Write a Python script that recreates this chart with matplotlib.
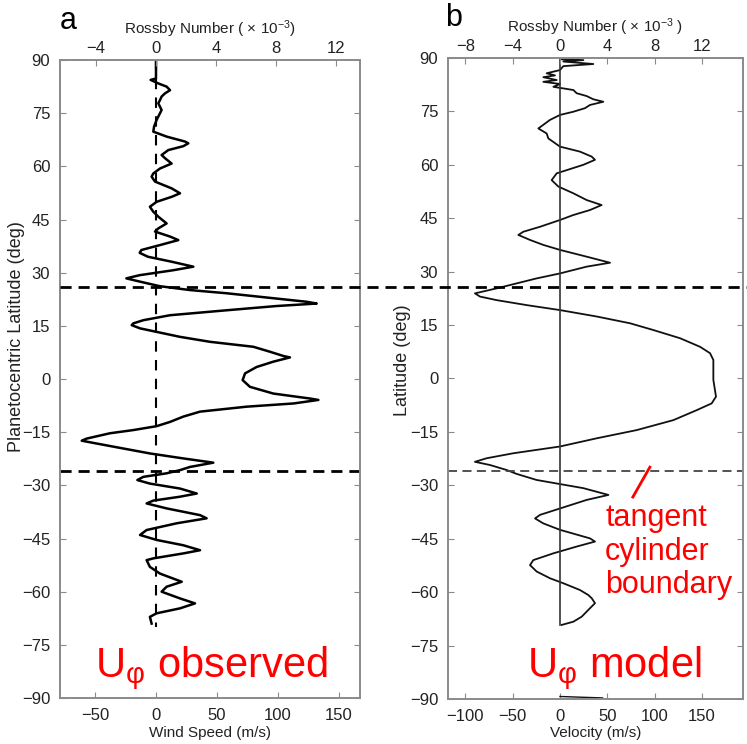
import matplotlib
matplotlib.use("Agg")
import matplotlib.pyplot as plt
from matplotlib.lines import Line2D

plt.rcParams['font.family'] = ['Liberation Sans', 'DejaVu Sans']
plt.rcParams['mathtext.fontset'] = 'custom'
plt.rcParams['mathtext.rm'] = 'Liberation Sans'
plt.rcParams['mathtext.it'] = 'Liberation Sans'

# panel a: observed wind (m/s) vs planetocentric latitude (deg)
lat_obs = [90, 84.8, 84.4, 83.4, 82.5, 81.5, 80.6, 79.7, 78.7, 77.8, 75.9, 73.1,
           71.2, 69.8, 68.4, 67.0, 66.5, 65.7, 64.6, 63.2, 62.3, 60.8, 59.4, 58.0,
           57.1, 55.7, 53.8, 52.4, 51.4, 50.0, 48.6, 47.2, 45.8, 43.9, 42.5, 41.6,
           40.2, 39.2, 37.8, 36.4, 35.6, 34.5, 33.1, 31.7, 30.7, 29.3, 28.4, 27.5,
           26.2, 25.1, 24.2, 22.7, 21.8, 21.3, 20.6, 19.4, 18.0, 16.6, 15.7, 15.2,
           14.3, 13.3, 11.9, 10.5, 9.1, 7.7, 6.5, 6.1, 4.9, 3.4, 1.6, -0.3,
           -2.2, -4.1, -5.5, -5.9, -6.9, -7.8, -9.2, -10.6, -12.1, -13.3, -14.4, -15.3,
           -16.8, -17.4, -18.2, -19.6, -21.0, -22.4, -23.6, -24.8, -25.7, -26.6, -27.6,
           -28.5, -29.5, -30.9, -32.3, -33.2, -34.3, -35.1, -36.5, -38.4, -39.3, -40.7,
           -42.6, -44.0, -45.4, -46.9, -48.3, -49.2, -50.6, -51.1, -53.0, -54.9, -57.2,
           -58.6, -60.0, -61.9, -63.3, -64.7, -66.1, -67.1, -69.0]
u_obs = [0, 0, -4.4, 1.9, 8.7, 11.5, 7.4, 4.6, 3.3, 1.9, 4.6, 0.5,
         -1.6, -2.2, 8.7, 23.8, 26.5, 22.4, 10.1, 4.6, 7.4, 12.8, 3.3, -2.2,
         -3.6, -0.8, 12.8, 19.7, 12.8, 0.5, -5.0, -2.2, 1.9, 8.7, 1.9, -0.8,
         11.5, 18.3, 3.3, -12.0, -13.4, -6.6, 12.8, 30.6, 14.2, -13.4, -24.3, -13.4,
         3.0, 27.9, 57.9, 98.9, 123.5, 131.7, 98.9, 57.9, 11.5, -10.4, -18.6, -19.9,
         -13.1, 0.5, 19.7, 44.3, 79.8, 93.4, 104.4, 109.8, 96.2, 82.5, 73.0, 71.0,
         77.0, 96.2, 126.2, 133.1, 112.6, 74.3, 36.1, 22.4, 11.5, 0.5, -18.6, -37.7,
         -56.8, -60.9, -48.6, -26.8, -4.9, 22.4, 47.0, 27.9, 19.7, 8.7, -10.4,
         -15.3, -5.0, 19.7, 33.4, 19.7, -2.2, -7.7, 8.7, 36.1, 41.5, 17.0,
         -7.7, -13.1, 0.5, 22.4, 36.1, 22.4, -2.2, -7.7, -5.0, 3.3, 21.1,
         8.7, 4.6, 19.7, 32.0, 19.7, 0.5, -5.0, -3.6]

# panel b: model velocity (m/s) vs latitude (deg)
lat_mod = [90, 89.6, 89.4, 89.0, 88.3, 87.7, 86.6, 85.7, 85.1, 84.6, 83.8, 83.3,
           82.7, 81.9, 81.0, 80.1, 79.3, 78.4, 77.7, 76.8, 75.9, 74.9, 74.0, 72.6,
           70.2, 68.8, 67.4, 65.1, 63.7, 62.3, 61.4, 60.0, 57.6, 55.7, 53.9, 52.0,
           50.1, 48.7, 47.3, 45.9, 44.5, 42.6, 41.2, 40.3, 38.9, 37.5, 36.1, 34.2,
           32.5, 31.4, 29.5, 28.1, 26.7, 25.3, 23.9, 23.0, 22.0, 20.6, 19.2, 17.4,
           15.5, 13.6, 11.3, 8.9, 7.1, 5.2, -0.4, -5.1, -7.0, -8.9, -11.7, -14.5,
           -16.8, -19.1, -21.0, -22.4, -23.4, -24.3, -25.7, -26.8, -28.5, -30.8, -32.7,
           -34.1, -36.5, -38.3, -39.3, -40.7, -42.5, -44.9, -45.8, -47.2, -49.1, -51.0,
           -52.4, -54.2, -56.1, -57.5, -59.4, -60.8, -61.7, -63.1, -65.0, -66.9, -68.3,
           -69.2]
u_mod = [2, 1.8, 24.7, 3.5, 35.2, 3.5, 0, -14.1, -5.3, -17.6, -3.5, -17.6,
         0, -7.0, 14.1, 17.6, 28.2, 35.2, 45.8, 31.7, 26.4, 14.1, 0, -10.6,
         -22.9, -14.1, -12.3, 0, 21.1, 33.5, 37.0, 24.7, -3.5, -8.8, -1.8, 14.1,
         28.2, 44.0, 31.7, 14.1, 0, -21.1, -38.8, -44.0, -31.7, -17.6, 0, 28.2,
         52.9, 28.2, 0, -24.7, -45.8, -67.0, -89.9, -84.6, -67.0, -35.2, 0, 38.8,
         74.0, 98.7, 126.9, 148.0, 158.6, 162.1, 162.1, 164.9, 160.3, 144.5, 119.8, 81.0,
         38.8, 0, -49.3, -77.5, -89.9, -74.0, -56.4, -45.8, -24.7, 24.7, 51.2,
         28.2, 0, -21.1, -26.4, -17.6, 0, 31.7, 37.0, 17.6, -7.0, -28.2,
         -31.7, -24.7, -10.6, 3.5, 21.1, 29.9, 33.5, 37.0, 29.9, 22.9, 14.1,
         1.8]
lat_tail = [-89.3, -89.5, -89.7]
u_tail = [0, 22, 45]

lat_ticks = list(range(-90, 91, 15))
tc_lat = 26  # tangent cylinder latitude

fig = plt.figure(figsize=(7.47, 7.44), dpi=100)
ax_a = fig.add_axes([0.0803, 0.0618, 0.4016, 0.8575])
ax_b = fig.add_axes([0.5997, 0.0605, 0.3949, 0.8616])

spine_col = '#8a8a8a'
txt_col = '#222222'


def style(ax, top=False):
    for s in ax.spines.values():
        s.set_color(spine_col)
        s.set_linewidth(1.2)
    ax.tick_params(direction='in', length=4, color=spine_col, labelsize=12,
                   labelcolor=txt_col, pad=7)
    if top:
        ax.tick_params(pad=3)
    else:
        ax.tick_params(right=True)


# panel a
ax_a.plot(u_obs, lat_obs, color='black', lw=1.8)
ax_a.plot([0, 0], [90, -70], color='black', lw=1.5, ls=(0, (5, 4)))
ax_a.axhline(-tc_lat, color='black', lw=2, ls=(0, (4, 2.5)))
ax_a.set_xlim(-78.7, 167.2)
ax_a.set_ylim(-90, 90)
ax_a.set_yticks(lat_ticks)
ax_a.set_xticks([-50, 0, 50, 100, 150])
ax_a.set_xlabel('Wind Speed (m/s)', fontsize=11, color=txt_col, labelpad=2)
ax_a.set_ylabel('Planetocentric Latitude (deg)', fontsize=13, color=txt_col)
ax_a.yaxis.set_label_coords(-0.118, 0.567)
style(ax_a)
top_a = ax_a.twiny()
top_a.set_xlim(-78.7 / 12.3, 167.2 / 12.3)
top_a.set_xticks([-4, 0, 4, 8, 12])
style(top_a, top=True)
top_a.set_xlabel(r'Rossby Number ( $\times$ 10$^{-3}$)', fontsize=11, color=txt_col, labelpad=5)
ax_a.text(-50, -84, r'U$_{φ}$ observed', color='red', fontsize=30)
ax_a.text(0.0, 1.048, 'a', transform=ax_a.transAxes, fontsize=22, ha='left', va='baseline')

# panel b
ax_b.plot(u_mod, lat_mod, color='#111111', lw=1.3)
ax_b.plot(u_tail, lat_tail, color='#111111', lw=1.0)
ax_b.plot([0, 0], [90, -69.2], color='#333333', lw=1.2)
ax_b.axhline(-tc_lat, color='#444444', lw=1.3, ls=(0, (5, 3)))
ax_b.set_xlim(-118.4, 193.4)
ax_b.set_ylim(-90, 90)
ax_b.set_yticks(lat_ticks)
ax_b.set_xticks([-100, -50, 0, 50, 100, 150])
ax_b.set_xlabel('Velocity (m/s)', fontsize=11, color=txt_col, labelpad=2)
ax_b.set_ylabel('Latitude (deg)', fontsize=13, color=txt_col)
ax_b.yaxis.set_label_coords(-0.125, 0.529)
style(ax_b)
top_b = ax_b.twiny()
top_b.set_xlim(-118.4 / 12.5, 193.4 / 12.5)
top_b.set_xticks([-8, -4, 0, 4, 8, 12])
style(top_b, top=True)
top_b.set_xlabel(r'Rossby Number ( $\times$ 10$^{-3}$ )', fontsize=11, color=txt_col, labelpad=5)
ax_b.text(-35, -83.8, r'U$_{φ}$ model', color='red', fontsize=30)
ax_b.text(-0.01, 1.05, 'b', transform=ax_b.transAxes, fontsize=22, ha='left', va='baseline')
ax_b.plot([95, 77], [-24.9, -33.3], color='red', lw=2)
ax_b.text(47.6, -35, 'tangent\ncylinder\nboundary', color='red', fontsize=22,
          ha='left', va='top', linespacing=1.15)

# upper tangent-cylinder line drawn across both panels
y_fig = ax_a.transData.transform((0, tc_lat))[1] / fig.dpi / fig.get_figheight()
fig.add_artist(Line2D([0.0803, 1.0], [y_fig, y_fig], transform=fig.transFigure,
                      color='black', lw=2, ls=(0, (4, 2.5))))

fig.savefig('out.png', dpi=100)
